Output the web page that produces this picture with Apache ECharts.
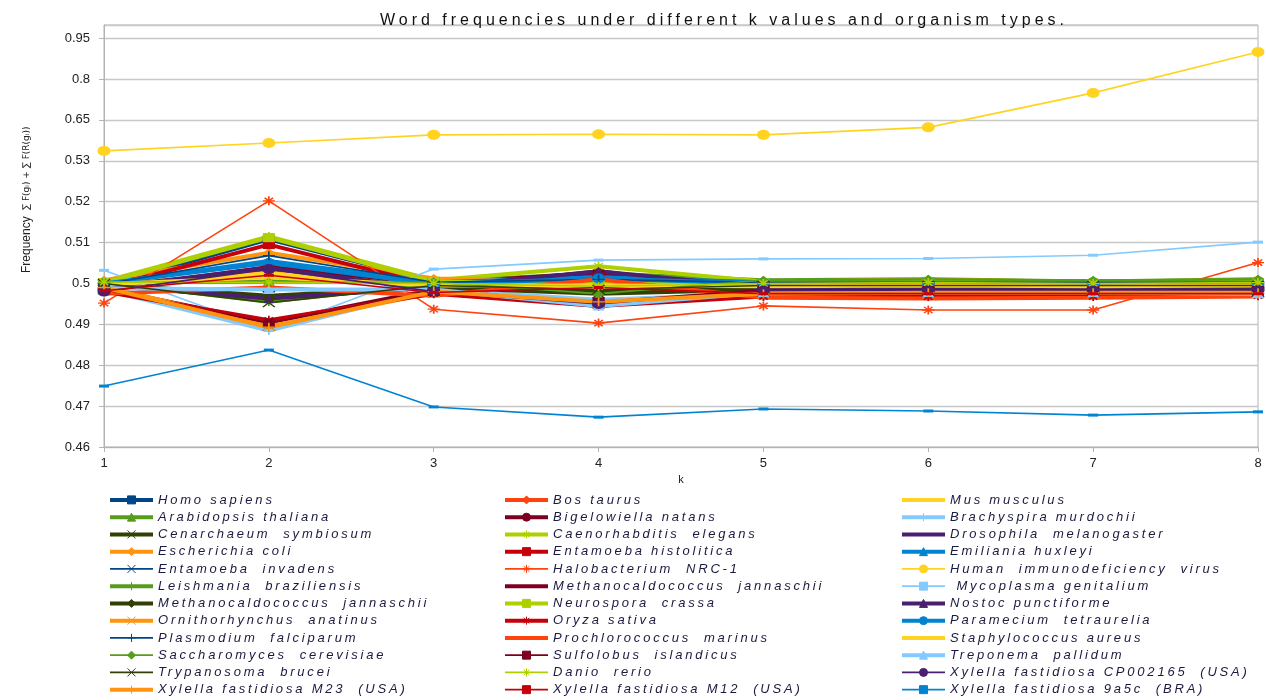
<!DOCTYPE html>
<html>
<head>
<meta charset="utf-8">
<script src="https://cdn.jsdelivr.net/npm/echarts@6/dist/echarts.min.js"></script>
<style>html,body{margin:0;padding:0;background:#fff}#c{width:1266px;height:700px}</style>
</head>
<body>
<div id="c"></div>
<script>
// ---- data ----
var kValues = ['1','2','3','4','5','6','7','8'];
var yTickLabels = ['0.46','0.47','0.48','0.49','0.5','0.51','0.52','0.53','0.65','0.8','0.95'];
var yTickValues = [0.46,0.47,0.48,0.49,0.50,0.51,0.52,0.53,0.65,0.80,0.95];

var seriesNames = [
 'Homo sapiens','Bos taurus','Mus musculus',
 'Arabidopsis thaliana','Bigelowiella natans','Brachyspira murdochii',
 'Cenarchaeum  symbiosum','Caenorhabditis  elegans','Drosophila  melanogaster',
 'Escherichia coli','Entamoeba histolitica','Emiliania huxleyi',
 'Entamoeba  invadens','Halobacterium  NRC-1','Human  immunodeficiency  virus',
 'Leishmania  braziliensis','Methanocaldococcus  jannaschii',' Mycoplasma genitalium',
 'Methanocaldococcus  jannaschii ','Neurospora  crassa','Nostoc punctiforme',
 'Ornithorhynchus  anatinus','Oryza sativa','Paramecium  tetraurelia',
 'Plasmodium  falciparum','Prochlorococcus  marinus','Staphylococcus aureus',
 'Saccharomyces  cerevisiae','Sulfolobus  islandicus','Treponema  pallidum',
 'Trypanosoma  brucei','Danio  rerio','Xylella fastidiosa CP002165  (USA)',
 'Xylella fastidiosa M23  (USA)','Xylella fastidiosa M12  (USA)','Xylella fastidiosa 9a5c  (BRA)'
];

var homoSapiens      = [0.4995,0.5108,0.5005,0.5020,0.5000,0.5003,0.5000,0.5002];
var bosTaurus        = [0.4990,0.5030,0.4990,0.5010,0.4990,0.4990,0.4988,0.4990];
var musMusculus      = [0.4998,0.5025,0.4995,0.4995,0.4985,0.4988,0.4987,0.4988];
var arabidopsis      = [0.5003,0.5005,0.5005,0.5025,0.5008,0.5010,0.5005,0.5010];
var bigelowiella     = [0.4985,0.5040,0.5000,0.5026,0.4988,0.4990,0.4988,0.4990];
var brachyspira      = [0.4985,0.4885,0.4985,0.4960,0.4975,0.4975,0.4975,0.4972];
var cenarchaeum      = [0.4998,0.4970,0.4990,0.4975,0.4985,0.4985,0.4985,0.4985];
var caenorhabditis   = [0.5005,0.5115,0.5008,0.5042,0.5005,0.5008,0.5005,0.5008];
var drosophila       = [0.4990,0.5038,0.4985,0.5030,0.4983,0.4985,0.4983,0.4985];
var escherichia      = [0.5008,0.5075,0.5012,0.5005,0.5005,0.5008,0.5005,0.5005];
var eHistolitica     = [0.4990,0.5095,0.4995,0.5015,0.4995,0.4995,0.4993,0.4995];
var emiliania        = [0.5000,0.5055,0.5003,0.5015,0.5003,0.5005,0.5003,0.5003];
var eInvadens        = [0.4985,0.4895,0.4978,0.4950,0.4978,0.4978,0.4978,0.4978];
var halobacterium    = [0.4952,0.5202,0.4937,0.4903,0.4945,0.4935,0.4935,0.5051];
var hiv              = [0.559,0.582,0.606,0.608,0.606,0.628,0.749,0.899];
var leishmania       = [0.5002,0.4955,0.5000,0.4978,0.5005,0.5008,0.5005,0.5008];
var methanoA         = [0.4988,0.4905,0.4985,0.4945,0.4980,0.4980,0.4980,0.4980];
var mycoplasma       = [0.5032,0.4885,0.5035,0.5057,0.5060,0.5061,0.5069,0.5101];
var methanoB         = [0.4995,0.4965,0.4990,0.4980,0.4990,0.4990,0.4990,0.4992];
var neurospora       = [0.5002,0.5112,0.5005,0.4998,0.5000,0.5002,0.5000,0.5002];
var nostoc           = [0.4995,0.4963,0.4990,0.5030,0.4990,0.4992,0.4990,0.4992];
var ornithorhynchus  = [0.4993,0.4895,0.4978,0.4950,0.4975,0.4975,0.4975,0.4975];
var oryza            = [0.4980,0.4910,0.4975,0.4945,0.4968,0.4968,0.4968,0.4970];
var paramecium       = [0.5000,0.5050,0.4998,0.5012,0.5000,0.5000,0.5000,0.5000];
var plasmodium       = [0.4998,0.5068,0.5003,0.5010,0.5002,0.5003,0.5002,0.5003];
var prochlorococcus  = [0.4975,0.4990,0.4970,0.5010,0.4965,0.4963,0.4965,0.4968];
var staphylococcus   = [0.4998,0.5015,0.4995,0.4995,0.4993,0.4995,0.4993,0.4995];
var saccharomyces    = [0.5003,0.5003,0.5003,0.4975,0.5008,0.5010,0.5008,0.5010];
var sulfolobus       = [0.4985,0.4903,0.4980,0.4955,0.4985,0.4983,0.4983,0.4983];
var treponema        = [0.4988,0.4985,0.4985,0.4945,0.4978,0.4978,0.4978,0.4975];
var trypanosoma      = [0.5000,0.4953,0.4995,0.4985,0.4995,0.4995,0.4995,0.4995];
var danio            = [0.5003,0.5003,0.5000,0.4993,0.5000,0.5002,0.5000,0.5002];
var xylellaCP        = [0.4980,0.5035,0.4980,0.4950,0.4982,0.4982,0.4982,0.4983];
var xylellaM23       = [0.4990,0.4893,0.4980,0.4955,0.4975,0.4977,0.4977,0.4977];
var xylellaM12       = [0.4982,0.5020,0.4978,0.4990,0.4975,0.4975,0.4975,0.4975];
var xylella9a5c      = [0.4749,0.4837,0.4698,0.4673,0.4693,0.4688,0.4678,0.4686];

var seriesValues = [
 homoSapiens,bosTaurus,musMusculus,arabidopsis,bigelowiella,brachyspira,
 cenarchaeum,caenorhabditis,drosophila,escherichia,eHistolitica,emiliania,
 eInvadens,halobacterium,hiv,leishmania,methanoA,mycoplasma,
 methanoB,neurospora,nostoc,ornithorhynchus,oryza,paramecium,
 plasmodium,prochlorococcus,staphylococcus,saccharomyces,sulfolobus,treponema,
 trypanosoma,danio,xylellaCP,xylellaM23,xylellaM12,xylella9a5c
];

// ---- wide text rendering (reference text is horizontally spread) ----
(function(){
  var proto = CanvasRenderingContext2D.prototype;
  var desc = Object.getOwnPropertyDescriptor(proto, 'font');
  if (!desc || !('letterSpacing' in proto)) return;
  Object.defineProperty(proto, 'font', {
    configurable: true,
    get: function(){ return desc.get.call(this); },
    set: function(v){
      desc.set.call(this, v);
      var s = '0px';
      if (/italic/.test(v)) s = '2.8px';
      else if (/16px/.test(v)) s = '4px';
      this.letterSpacing = s;
    }
  });
})();

// ---- styles ----
var palette = ['#004586','#ff420e','#ffd320','#579d1c','#7e0021','#83caff','#314004','#aecf00','#4b1f6f','#ff950e','#c5000b','#0084d1'];
var SYM = {
  sq:'rect', tri:'triangle', dia:'diamond', circ:'circle', none:'circle',
  x:'path://M0,0L10,10M10,0L0,10',
  plus:'path://M5,0L5,10M0,5L10,5',
  ast:'path://M5,0L5,10M0,5L10,5M1.5,1.5L8.5,8.5M8.5,1.5L1.5,8.5',
  dash:'rect'
};
var SIZE = {
  sq:[12,9], tri:[12,9], dia:[12,9], circ:[13,10], none:0,
  x:[12,9], plus:[12,9], ast:[12,9], dash:[10,3]
};
// [symbol, thick]
var styleSpec = [
 ['sq',1],['dia',1],['none',1],
 ['tri',1],['circ',1],['plus',1],
 ['x',1],['ast',1],['none',1],
 ['dia',1],['sq',1],['tri',1],
 ['x',0],['ast',0],['circ',0],
 ['plus',1],['none',1],['dash',0],
 ['dia',1],['sq',1],['tri',1],
 ['x',1],['ast',1],['circ',1],
 ['plus',0],['none',1],['none',1],
 ['dia',0],['sq',0],['tri',1],
 ['x',0],['ast',0],['circ',0],
 ['plus',1],['dash',0],['dash',0]
];

function toAxis(v){
  var t = yTickValues, n = t.length;
  for (var i = 0; i < n - 1; i++) {
    if (v <= t[i+1] || i === n - 2) {
      return i + (v - t[i]) / (t[i+1] - t[i]);
    }
  }
}

var series = seriesNames.map(function(name, i){
  var c = palette[i % 12];
  var sp = styleSpec[i];
  var key = sp[0], thick = sp[1];
  var stroked = (key === 'x' || key === 'plus' || key === 'ast');
  var noMark = key === 'none';
  return {
    name: name,
    type: 'line',
    data: seriesValues[i].map(toAxis),
    symbol: SYM[key],
    symbolSize: SIZE[key],
    showSymbol: !noMark,
    lineStyle: {color: c, width: thick ? 4 : 1.6},
    itemStyle: {
      color: noMark ? 'rgba(0,0,0,0)' : c,
      borderColor: noMark ? 'rgba(0,0,0,0)' : c,
      borderWidth: stroked ? 1.5 : 0
    },
    emphasis: {disabled: true},
    animation: false
  };
});

var legendText = {color:'#1a1a3e', fontSize:13, fontStyle:'italic', fontFamily:'Liberation Sans'};
function col(j){ var a=[]; for (var r=0;r<12;r++) a.push(seriesNames[r*3+j]); return a; }
var legendLefts = [108, 503, 900];
var legends = [0,1,2].map(function(j){
  return {
    orient:'vertical', left: legendLefts[j], top: 492, height: 208,
    itemWidth: 43, itemHeight: 10, itemGap: 1.45,
    lineStyle: {width: 'inherit'},
    itemStyle: {borderWidth: 1},
    textStyle: legendText, data: col(j), selectedMode:false, padding:0
  };
});

var chart = echarts.init(document.getElementById('c'), null, {renderer:'canvas'});
chart.setOption({
  backgroundColor:'#ffffff',
  animation:false,
  title:{
    text:'Word frequencies under different k values and organism types.',
    left: 719, top: 6, textAlign:'center',
    textStyle:{fontFamily:'Liberation Sans', fontSize:16, fontWeight:'normal', color:'#111'}
  },
  legend: legends,
  grid:{left:104, right:8, top:25, bottom:253, show:true, borderColor:'#b3b3b3', borderWidth:1},
  xAxis:{
    type:'category', data:kValues, boundaryGap:false,
    name:'k', nameLocation:'middle', nameGap:24,
    nameTextStyle:{fontFamily:'Liberation Sans', fontSize:11, color:'#222'},
    axisLine:{lineStyle:{color:'#b3b3b3'}},
    axisTick:{show:true, length:5, lineStyle:{color:'#b3b3b3'}},
    axisLabel:{fontFamily:'Liberation Sans', fontSize:13, color:'#222', margin:10},
    splitLine:{show:false}
  },
  yAxis:{
    type:'value', min:0, max:10.32, interval:1,
    axisLine:{show:true, lineStyle:{color:'#b3b3b3'}},
    axisTick:{show:true, length:5, lineStyle:{color:'#b3b3b3'}},
    axisLabel:{fontFamily:'Liberation Sans', fontSize:13, color:'#222', margin:14,
      showMaxLabel:false,
      formatter:function(v){ var i=Math.round(v); return Math.abs(v-i)<1e-6 && yTickLabels[i] ? yTickLabels[i] : ''; }},
    splitLine:{show:true, lineStyle:{color:'#c8c8c8', width:1.3}}
  },
  graphic:[
    {type:'text', x:27, y:273, rotation:Math.PI/2,
     style:{text:'Frequency', font:'12px "Liberation Sans"', fill:'#222', textVerticalAlign:'middle'}},
    {type:'text', x:27, y:210, rotation:Math.PI/2,
     style:{text:'\u2211 F(g\u1d62) + \u2211 F(R(g\u1d62))', font:'9px "DejaVu Sans"', fill:'#222', textVerticalAlign:'middle'}}
  ],
  series: series
});
</script>
</body>
</html>
